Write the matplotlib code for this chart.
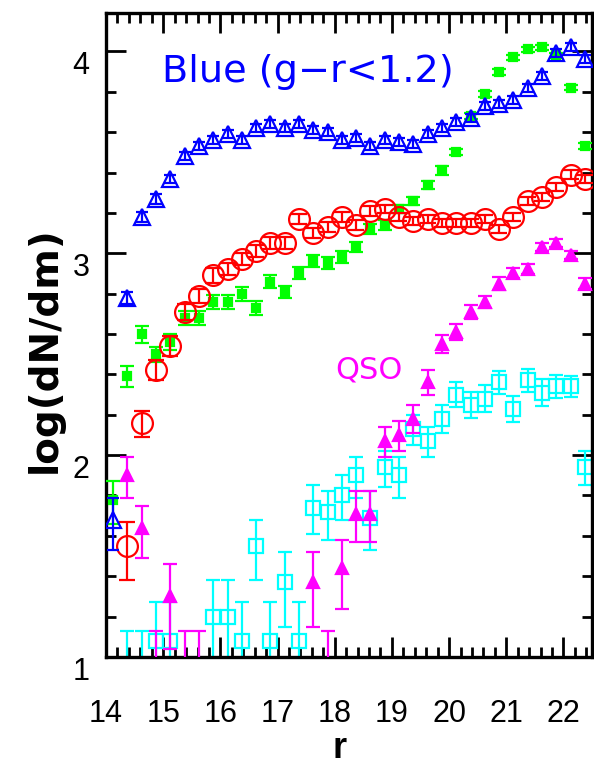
import numpy as np
import matplotlib
matplotlib.use('Agg')
import matplotlib.pyplot as plt
from matplotlib.ticker import MultipleLocator

# magnitude bins (r), 0.25 mag wide
r_all = [14.125, 14.375, 14.625, 14.875, 15.125, 15.375, 15.625, 15.875,
         16.125, 16.375, 16.625, 16.875, 17.125, 17.375, 17.625, 17.875,
         18.125, 18.375, 18.625, 18.875, 19.125, 19.375, 19.625, 19.875,
         20.125, 20.375, 20.625, 20.875, 21.125, 21.375, 21.625, 21.875,
         22.125, 22.375]

# blue galaxies (g-r < 1.2)
r_blue = r_all
n_blue = [1.68, 2.78, 3.18, 3.27, 3.37, 3.48, 3.53, 3.56, 3.59, 3.56, 3.62, 3.64,
          3.62, 3.64, 3.61, 3.60, 3.56, 3.57, 3.53, 3.56, 3.55, 3.54, 3.59, 3.62,
          3.65, 3.67, 3.73, 3.74, 3.76, 3.82, 3.88, 3.99, 4.02, 3.96]
lo_blue = [0.15, 0.03, 0.025, 0.025, 0.02, 0.02, 0.02, 0.02, 0.02, 0.02, 0.02, 0.02,
           0.02, 0.02, 0.02, 0.02, 0.02, 0.02, 0.02, 0.02, 0.02, 0.02, 0.02, 0.02,
           0.02, 0.02, 0.02, 0.02, 0.02, 0.02, 0.02, 0.02, 0.02, 0.02]
hi_blue = [0.11, 0.03, 0.025, 0.025, 0.02, 0.02, 0.02, 0.02, 0.02, 0.02, 0.02, 0.02,
           0.02, 0.02, 0.02, 0.02, 0.02, 0.02, 0.02, 0.02, 0.02, 0.02, 0.02, 0.02,
           0.02, 0.02, 0.02, 0.02, 0.02, 0.02, 0.02, 0.02, 0.02, 0.02]

# red galaxies
r_red = r_all[1:]
n_red = [1.55, 2.16, 2.42, 2.54, 2.71, 2.79, 2.89, 2.92, 2.97, 3.01, 3.05, 3.05,
         3.17, 3.10, 3.13, 3.18, 3.14, 3.21, 3.22, 3.18, 3.16, 3.17, 3.15, 3.15,
         3.15, 3.17, 3.12, 3.18, 3.26, 3.28, 3.33, 3.39, 3.37]
lo_red = [0.17, 0.07, 0.05, 0.05, 0.04, 0.035, 0.035, 0.03, 0.03, 0.03, 0.03, 0.03,
          0.025, 0.025, 0.025, 0.025, 0.025, 0.025, 0.02, 0.02, 0.02, 0.02, 0.02, 0.02,
          0.02, 0.02, 0.02, 0.02, 0.02, 0.02, 0.02, 0.02, 0.02]
hi_red = [0.12, 0.06, 0.05, 0.05, 0.04, 0.035, 0.035, 0.03, 0.03, 0.03, 0.03, 0.03,
          0.025, 0.025, 0.025, 0.025, 0.025, 0.025, 0.02, 0.02, 0.02, 0.02, 0.02, 0.02,
          0.02, 0.02, 0.02, 0.02, 0.02, 0.02, 0.02, 0.02, 0.02]

# stars
r_star = r_all
n_star = [1.78, 2.39, 2.60, 2.50, 2.56, 2.68, 2.68, 2.76, 2.76, 2.80, 2.73, 2.86,
          2.81, 2.90, 2.96, 2.95, 2.98, 3.03, 3.12, 3.14, 3.22, 3.26, 3.34, 3.41,
          3.50, 3.68, 3.79, 3.90, 3.97, 4.01, 4.02, 3.98, 3.82, 3.53]
lo_star = [0.12, 0.055, 0.045, 0.04, 0.04, 0.035, 0.035, 0.035, 0.035, 0.035, 0.035, 0.03,
           0.03, 0.03, 0.03, 0.03, 0.03, 0.025, 0.025, 0.025, 0.02, 0.02, 0.02, 0.02,
           0.015, 0.015, 0.015, 0.015, 0.012, 0.012, 0.012, 0.012, 0.012, 0.015]
hi_star = [0.09, 0.05, 0.04, 0.035, 0.04, 0.035, 0.035, 0.035, 0.035, 0.035, 0.035, 0.03,
           0.03, 0.03, 0.03, 0.03, 0.03, 0.025, 0.025, 0.025, 0.02, 0.02, 0.02, 0.02,
           0.015, 0.015, 0.015, 0.015, 0.012, 0.012, 0.012, 0.012, 0.012, 0.015]

# QSOs
r_qso = [14.375, 14.625, 14.875, 15.125, 15.375, 15.625, 17.625, 17.875, 18.125,
         18.375, 18.625, 18.875, 19.125, 19.375, 19.625, 19.875, 20.125, 20.375,
         20.625, 20.875, 21.125, 21.375, 21.625, 21.875, 22.125, 22.375]
n_qso = [1.90, 1.64, 0.83, 1.30, 0.83, 0.83, 1.37, 0.83, 1.44,
         1.71, 1.71, 2.07, 2.10, 2.18, 2.36, 2.55, 2.61, 2.71,
         2.76, 2.85, 2.90, 2.92, 3.03, 3.05, 2.99, 2.85]
lo_qso = [0.11, 0.15, 0.40, 0.26, 0.40, 0.40, 0.22, 0.40, 0.20,
          0.14, 0.14, 0.08, 0.08, 0.07, 0.06, 0.045, 0.04, 0.035,
          0.03, 0.03, 0.025, 0.025, 0.02, 0.02, 0.02, 0.025]
hi_qso = [0.09, 0.11, 0.30, 0.16, 0.30, 0.30, 0.15, 0.30, 0.14,
          0.11, 0.11, 0.07, 0.07, 0.07, 0.06, 0.045, 0.04, 0.035,
          0.03, 0.03, 0.025, 0.025, 0.02, 0.02, 0.02, 0.025]

# unresolved / other (cyan)
r_cyan = [14.375, 14.625, 14.875, 15.125, 15.875, 16.125, 16.375, 16.625, 16.875,
          17.125, 17.375, 17.625, 17.875, 18.125, 18.375, 18.625, 18.875, 19.125,
          19.375, 19.625, 19.875, 20.125, 20.375, 20.625, 20.875, 21.125, 21.375,
          21.625, 21.875, 22.125, 22.375]
n_cyan = [0.83, 0.83, 1.08, 1.08, 1.20, 1.20, 1.08, 1.55, 1.08,
          1.37, 1.08, 1.74, 1.72, 1.80, 1.90, 1.69, 1.94, 1.90,
          2.13, 2.07, 2.18, 2.30, 2.25, 2.28, 2.36, 2.23, 2.37,
          2.31, 2.34, 2.34, 1.94]
lo_cyan = [0.40, 0.40, 0.35, 0.35, 0.30, 0.30, 0.35, 0.17, 0.35,
           0.22, 0.35, 0.13, 0.14, 0.12, 0.11, 0.16, 0.10, 0.11,
           0.08, 0.08, 0.07, 0.06, 0.065, 0.065, 0.055, 0.065, 0.055,
           0.065, 0.055, 0.05, 0.09]
hi_cyan = [0.30, 0.30, 0.19, 0.19, 0.18, 0.18, 0.19, 0.13, 0.19,
           0.15, 0.19, 0.11, 0.10, 0.10, 0.09, 0.13, 0.08, 0.09,
           0.07, 0.07, 0.07, 0.06, 0.065, 0.065, 0.055, 0.065, 0.055,
           0.065, 0.055, 0.05, 0.08]


def draw_series(ax, r, n, lo, hi, color, marker, ms, filled, capsize, z):
    ax.errorbar(r, n, yerr=[lo, hi], fmt=marker, ms=ms, color=color,
                mfc=color if filled else 'none', mec=color, mew=1.6,
                ecolor=color, elinewidth=1.6, capsize=capsize, capthick=1.6,
                zorder=z)


fig = plt.figure(figsize=(5.94, 7.66), dpi=100)
ax = fig.add_axes([0.1785, 0.1423, 0.8182, 0.8407])

draw_series(ax, r_cyan, n_cyan, lo_cyan, hi_cyan, '#00ffff', 's', 9.5, False, 4.7, 2)
draw_series(ax, r_qso, n_qso, lo_qso, hi_qso, '#ff00ff', '^', 8, True, 5, 3)
draw_series(ax, r_star, n_star, lo_star, hi_star, '#00ff00', 's', 6, True, 5, 4)
draw_series(ax, r_red, n_red, lo_red, hi_red, '#ff0000', 'o', 15, False, 6, 5)
draw_series(ax, r_blue, n_blue, lo_blue, hi_blue, '#0000ff', '^', 12, False, 4.5, 6)

ax.set_xlim(14, 22.5)
ax.set_ylim(1, 4.19)
ax.set_xticks([14, 15, 16, 17, 18, 19, 20, 21, 22])
ax.set_yticks([1, 2, 3, 4])
ax.xaxis.set_minor_locator(MultipleLocator(0.2))
ax.yaxis.set_minor_locator(MultipleLocator(0.2))
ax.tick_params(which='both', direction='in', top=True, right=True, width=2)
ax.tick_params(which='major', length=14.5)
ax.tick_params(which='minor', length=7)
ax.tick_params(axis='x', pad=30)
ax.tick_params(axis='y', pad=12)
for sp in ax.spines.values():
    sp.set_linewidth(2.4)

tick_font = {'family': 'Liberation Sans', 'size': 22}
for lab in ax.get_xticklabels():
    lab.set_fontfamily(tick_font['family'])
    lab.set_fontsize(tick_font['size'])
for lab in ax.get_yticklabels():
    lab.set_fontfamily(tick_font['family'])
    lab.set_fontsize(tick_font['size'])
    lab.set_verticalalignment('top')

ax.set_xlabel('r', fontfamily='Liberation Sans', fontsize=26, fontweight='bold',
              va='bottom')
ax.xaxis.set_label_coords(0.481, -0.1685)
ax.set_ylabel('log(dN/dm)', fontfamily='DejaVu Sans', fontsize=28,
              fontweight='bold', va='center', ha='center')
ax.yaxis.set_label_coords(-0.1255, 0.477)

ax.text(0.115, 0.893, 'Blue (g\u2212r<1.2)', transform=ax.transAxes,
        color='#0000ff', fontfamily='DejaVu Sans', fontsize=27.5,
        ha='left', va='baseline')
ax.text(0.471, 0.433, 'QSO', transform=ax.transAxes, color='#ff00ff',
        fontfamily='DejaVu Sans', fontsize=22, ha='left', va='baseline')

fig.savefig('out.png', dpi=100)
plt.close(fig)
